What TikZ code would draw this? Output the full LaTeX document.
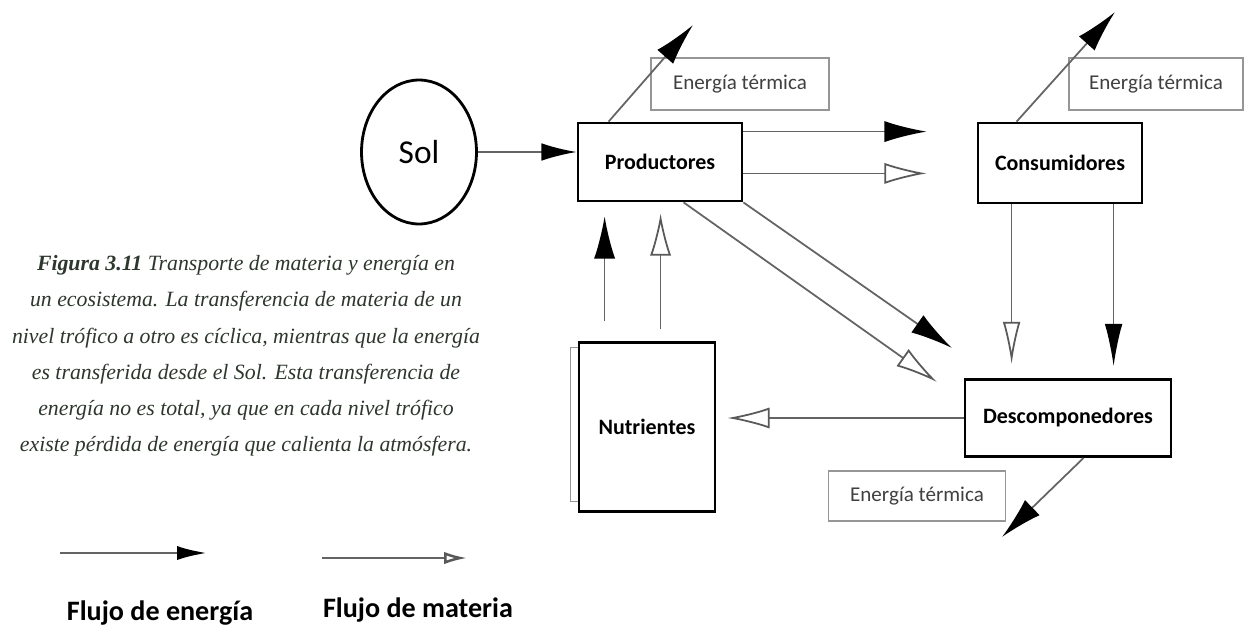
\documentclass[tikz,border=0pt]{standalone}
\usepackage{fontspec}
\usepackage{xcolor}
\usepackage{tikz}
\usetikzlibrary{arrows.meta,shapes.geometric}
\newfontfamily\lblfont{Carlito}
\newfontfamily\capfont{Liberation Serif}
\definecolor{captxt}{RGB}{45,55,45}
\definecolor{linegray}{RGB}{100,100,100}
\definecolor{boxgray}{RGB}{150,150,150}

\begin{document}
\begin{tikzpicture}[x=0.02cm,y=-0.02cm,
  caja/.style={draw,line width=1.6pt,fill=white,font=\lblfont\fontsize{12.5}{14}\selectfont\bfseries},
  termica/.style={draw=boxgray,line width=1.1pt,fill=white,text=black!75,font=\lblfont\fontsize{12}{14}\selectfont},
  energia/.style={draw=linegray,line width=1pt,-{Latex[length=24pt,width=12pt,color=black]}},
  materia/.style={draw=linegray,line width=1pt,-{Latex[length=24pt,width=12pt,color=black!65,fill=white]}},
  leyenda/.style={font=\lblfont\fontsize{16}{18}\selectfont\bfseries}]
\useasboundingbox[fill=white](0,0)rectangle(1244,636);
\node[ellipse,draw,line width=1.6pt,minimum width=2.3cm,minimum height=2.88cm,font=\lblfont\fontsize{19}{22}\selectfont](sol)at(419,152){Sol};
\node[caja,minimum width=3.28cm,minimum height=1.56cm](prod)at(660,162){Productores};
\node[caja,minimum width=3.28cm,minimum height=1.6cm](cons)at(1060,163){Consumidores};
\node[caja,minimum width=4.12cm,minimum height=1.54cm](desc)at(1068,418){Descomponedores};
\node[caja,minimum width=2.72cm,minimum height=3.38cm](nutr)at(647,427){Nutrientes};
\node[termica,minimum width=3.56cm,minimum height=1.04cm](term1)at(740,84){Energía térmica};
\node[termica,minimum width=3.48cm,minimum height=1.04cm](term2)at(1156,84){Energía térmica};
\node[termica,minimum width=3.54cm,minimum height=1cm](term3)at(917,496){Energía térmica};
\coordinate(pc1)at(693,25);
\coordinate(cc1)at(1115,12);
\coordinate(dc1)at(1002,537);
\coordinate(dk)at(952,348);
\coordinate(dm)at(937,382);
\draw[energia,-{Latex[length=20pt,width=10pt,color=black]}](sol)--(sol-|prod.west);
\draw[energia]([xshift=0.64cm]prod.north west)--(pc1);
\draw[energia]([xshift=0.8cm]cons.north west)--(cc1);
\draw[energia]([xshift=2.4cm]desc.south west)--(dc1);
\draw[energia,shorten >=1cm]([yshift=-0.2cm]prod.north east)--([yshift=-0.2cm]prod.north east-|cons.west);
\draw[materia,shorten >=1cm]([yshift=0.58cm]prod.south east)--([yshift=0.58cm]prod.south east-|cons.west);
\draw[energia](prod.south east)--(dk);
\draw[materia]([xshift=2.14cm]prod.south west)--(dm);
\draw[materia,-{Latex[length=24pt,width=10pt,color=black!65,fill=white]},shorten >=0.28cm]([xshift=0.7cm]cons.south west)--([xshift=0.7cm]cons.south west|-desc.north);
\draw[energia,-{Latex[length=24pt,width=10pt,color=black]},shorten >=0.24cm]([xshift=2.74cm]cons.south west)--([xshift=2.74cm]cons.south west|-desc.north);
\draw[materia,shorten >=0.22cm](desc.west)--(desc.west-|nutr.east);
\draw[energia,shorten <=0.4cm,shorten >=0.28cm]([xshift=0.54cm]nutr.north west)--([xshift=0.54cm]nutr.north west|-prod.south);
\draw[materia,shorten <=0.24cm,shorten >=0.22cm]([xshift=1.66cm]nutr.north west)--([xshift=1.66cm]nutr.north west|-prod.south);
\draw[boxgray,line width=0.6pt]([yshift=-0.12cm]nutr.north west)-|++(-7,154)--++(7,0);
\node[align=center,text=captxt,font=\capfont\fontsize{12.4}{20.6}\selectfont\itshape](cap)at(246,356){%
{\bfseries Figura 3.11} Transporte de materia y energía en\\
un ecosistema. La transferencia de materia de un\\
nivel trófico a otro es cíclica, mientras que la energía\\
es transferida desde el Sol. Esta transferencia de\\
energía no es total, ya que en cada nivel trófico\\
existe pérdida de energía que calienta la atmósfera.};
\coordinate(le1)at(60,553);
\coordinate(le2)at(207,553);
\coordinate(lm1)at(322,558);
\coordinate(lm2)at(467,558);
\draw[energia,line width=1.6pt,-{Latex[length=17pt,width=8pt,color=black]}](le1)--(le2);
\draw[materia,line width=1.4pt,-{Latex[length=13pt,width=7pt,color=black!65,fill=white]}](lm1)--(lm2);
\node[leyenda](fe)at(160,613){Flujo de energía};
\node[leyenda](fm)at(418,610){Flujo de materia};
\end{tikzpicture}
\end{document}
